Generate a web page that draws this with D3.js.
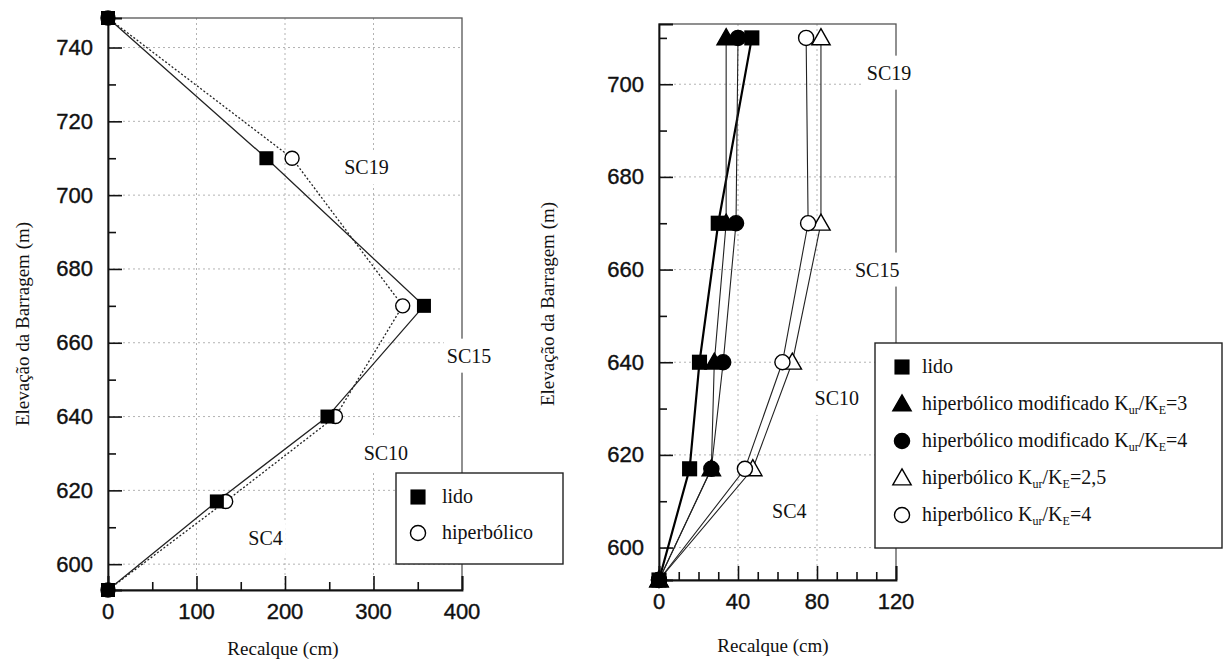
<!DOCTYPE html>
<html>
<head>
<meta charset="utf-8">
<script src="https://cdn.jsdelivr.net/npm/d3@7"></script>
<style>
  body { margin: 0; background: #fff; }
</style>
</head>
<body>
<div id="chart"></div>
<script>
const WIDTH = 1225;
const HEIGHT = 659;
const SANS = "'Liberation Sans', Arial, Helvetica, sans-serif";
const SERIF = "'Liberation Serif', Tinos, 'Times New Roman', Times, 'DejaVu Serif', serif";

// left panel data
const elevLeft = [748, 710, 670, 640, 617, 593];
const lidoLeft = [0, 179, 357, 248, 123, 0];
const hiperLeft = [0, 208, 333, 257, 133, 0];
const leftXTicks = [0, 100, 200, 300, 400];
const leftYTicks = [600, 620, 640, 660, 680, 700, 720, 740];
const leftRegions = ["SC19", "SC15", "SC10", "SC4"];
const leftRegionX = [292, 408, 314, 178];
const leftRegionY = [707.5, 656.5, 630, 607];

// right panel data
const elevRight = [710, 670, 640, 617, 593];
const lidoRight = [47, 30, 20.5, 15.5, 0];
const modKur3 = [34, 34, 28, 26.5, 0];
const modKur4 = [40, 39, 32.5, 26.5, 0];
const hipKur25 = [82, 82, 67.5, 47.5, 0];
const hipKur4 = [74.5, 75.5, 62.5, 43.5, 0];
const rightXTicks = [0, 40, 80, 120];
const rightYTicks = [600, 620, 640, 660, 680, 700];
const rightRegions = ["SC19", "SC15", "SC10", "SC4"];
const rightRegionX = [116.5, 110.5, 90, 66];
const rightRegionY = [702.5, 660, 632.3, 608];

const svg = d3.select("#chart").append("svg")
    .attr("width", WIDTH)
    .attr("height", HEIGHT);

function subLabel(sel, pre, post) {
    // "pre K_ur/K_E=post"
    sel.append("tspan").text(pre + "K");
    sel.append("tspan").attr("font-size", "12px").attr("dy", 4).text("ur");
    sel.append("tspan").attr("dy", -4).text("/K");
    sel.append("tspan").attr("font-size", "12px").attr("dy", 4).text("E");
    sel.append("tspan").attr("dy", -4).text("=" + post);
}

function drawMarker(g, type, x, y, big) {
    var k = big ? 1.08 : 1;
    if (type === "square") {
        var h = 7 * k;
        g.append("rect").attr("x", x - h).attr("y", y - h)
            .attr("width", 2 * h).attr("height", 2 * h).attr("fill", "#000");
    } else if (type === "tri" || type === "otri") {
        var s = 8.5 * k;
        g.append("path")
            .attr("d", `M${x},${y - s}L${x + s},${y + s * 0.75}L${x - s},${y + s * 0.75}Z`)
            .attr("fill", type === "tri" ? "#000" : "#fff")
            .attr("stroke", "#000").attr("stroke-width", 1.4);
    } else {
        g.append("circle").attr("cx", x).attr("cy", y).attr("r", 7 * k)
            .attr("fill", type === "circle" ? "#000" : "#fff")
            .attr("stroke", "#000").attr("stroke-width", 1.4);
    }
}

function panel(opt) {
    var x = d3.scaleLinear().domain(opt.xDomain).range([opt.left, opt.right]);
    var y = d3.scaleLinear().domain(opt.yDomain).range([opt.bottom, opt.top]);
    var g = svg.append("g");

    // grid
    g.selectAll(".gx").data(opt.xTicks.slice(1, -1)).enter().append("line")
        .attr("x1", d => x(d)).attr("x2", d => x(d))
        .attr("y1", opt.top).attr("y2", opt.bottom)
        .attr("stroke", "#aaa").attr("stroke-width", 0.9).attr("stroke-dasharray", "2,3");
    g.selectAll(".gy").data(opt.yTicks).enter().append("line")
        .attr("x1", opt.left).attr("x2", opt.right)
        .attr("y1", d => y(d)).attr("y2", d => y(d))
        .attr("stroke", "#aaa").attr("stroke-width", 0.9).attr("stroke-dasharray", "2,3");

    // frame
    g.append("rect").attr("x", opt.left).attr("y", opt.top)
        .attr("width", opt.right - opt.left).attr("height", opt.bottom - opt.top)
        .attr("fill", "none").attr("stroke", "#555").attr("stroke-width", 1.3);

    // axes with inward ticks
    var yStep = opt.yTicks[1] - opt.yTicks[0];
    var yMinorVals = opt.yTicks.map(d => d + yStep / 2).concat([opt.yTicks[0] - yStep / 2])
        .filter(d => d > opt.yDomain[0] && d < opt.yDomain[1]);
    var yAxis = d3.axisRight(y).tickValues(opt.yTicks).tickSize(14).tickFormat("");
    g.append("g").attr("transform", `translate(${opt.left},0)`).call(yAxis)
        .call(a => a.select(".domain").attr("stroke", "#111").attr("stroke-width", 1.8));
    var yMinor = d3.axisRight(y).tickValues(yMinorVals).tickSize(8).tickFormat("");
    g.append("g").attr("transform", `translate(${opt.left},0)`).call(yMinor)
        .call(a => a.select(".domain").remove());
    var xAxis = d3.axisTop(x).tickValues(opt.xTicks).tickSize(14).tickFormat("");
    g.append("g").attr("transform", `translate(0,${opt.bottom})`).call(xAxis)
        .call(a => a.select(".domain").attr("stroke", "#111").attr("stroke-width", 1.8));
    var xMinor = d3.axisTop(x)
        .tickValues(d3.range(opt.xDomain[0], opt.xDomain[1], opt.xMinor).filter(d => opt.xTicks.indexOf(d) < 0))
        .tickSize(8).tickFormat("");
    g.append("g").attr("transform", `translate(0,${opt.bottom})`).call(xMinor)
        .call(a => a.select(".domain").remove());
    g.selectAll(".tick line").attr("stroke", "#111").attr("stroke-width", 1.6);

    // tick labels
    g.selectAll(".yl").data(opt.yTicks).enter().append("text")
        .style("font-family", SANS).style("font-size", "22px")
        .attr("fill", "#111").attr("stroke", "#111").attr("stroke-width", 0.4)
        .attr("x", opt.left - 15).attr("y", d => y(d))
        .attr("text-anchor", "end").attr("dominant-baseline", "central").text(d => d);
    g.selectAll(".xl").data(opt.xTicks).enter().append("text")
        .style("font-family", SANS).style("font-size", "22px")
        .attr("fill", "#111").attr("stroke", "#111").attr("stroke-width", 0.4)
        .attr("x", d => x(d)).attr("y", opt.bottom + 21)
        .attr("text-anchor", "middle").attr("dominant-baseline", "central").text(d => d);

    // axis titles
    g.append("text").style("font-family", SERIF).style("font-size", "19px").attr("fill", "#111")
        .attr("text-anchor", "middle").attr("dominant-baseline", "central")
        .attr("transform", `translate(${opt.yTitleX},${opt.yTitleY}) rotate(-90)`)
        .text("Elevação da Barragem (m)");
    g.append("text").style("font-family", SERIF).style("font-size", "19px").attr("fill", "#111")
        .attr("text-anchor", "middle").attr("dominant-baseline", "central")
        .attr("x", opt.xTitleX).attr("y", opt.xTitleY)
        .text("Recalque (cm)");

    // region labels with white backing (they cut the frame)
    opt.regions.forEach(function(r, i) {
        var t = g.append("text").style("font-family", SERIF).style("font-size", "20px").attr("fill", "#111")
            .attr("text-anchor", "middle").attr("dominant-baseline", "central")
            .attr("x", x(opt.regionX[i])).attr("y", y(opt.regionY[i])).text(r);
        var bb = t.node().getBBox();
        g.insert("rect", function() { return t.node(); })
            .attr("x", bb.x - 3).attr("y", bb.y - 6).attr("width", bb.width + 6).attr("height", bb.height + 12)
            .attr("fill", "#fff");
    });

    // series lines, then markers (first series on top)
    opt.series.forEach(function(s) {
        var pts = s.values.map((v, i) => [x(v), y(opt.elev[i])]);
        g.append("path").attr("d", d3.line()(pts))
            .attr("fill", "none").attr("stroke", s.stroke || "#222")
            .attr("stroke-width", s.width).attr("stroke-dasharray", s.dash || null);
    });
    opt.series.slice().reverse().forEach(function(s) {
        s.values.forEach(function(v, i) { drawMarker(g, s.marker, x(v), y(opt.elev[i]), opt.big); });
    });
    return g;
}

panel({
    left: 108, right: 462, top: 18, bottom: 590,
    xDomain: [0, 400], yDomain: [593, 748],
    xTicks: leftXTicks, yTicks: leftYTicks, xMinor: 50,
    elev: elevLeft, big: false,
    yTitleX: 22, yTitleY: 324, xTitleX: 283, xTitleY: 648,
    regions: leftRegions, regionX: leftRegionX, regionY: leftRegionY,
    series: [
        { values: lidoLeft, marker: "square", width: 1.3 },
        { values: hiperLeft, marker: "ocircle", width: 1.3, dash: "2,2" }
    ]
});

panel({
    left: 659, right: 896, top: 24, bottom: 580,
    xDomain: [0, 120], yDomain: [593, 713],
    xTicks: rightXTicks, yTicks: rightYTicks, xMinor: 10,
    elev: elevRight, big: true,
    yTitleX: 547, yTitleY: 304, xTitleX: 773, xTitleY: 645,
    regions: rightRegions, regionX: rightRegionX, regionY: rightRegionY,
    series: [
        { values: lidoRight, marker: "square", width: 2.2, stroke: "#000" },
        { values: modKur4, marker: "circle", width: 1.1 },
        { values: modKur3, marker: "tri", width: 1.1 },
        { values: hipKur4, marker: "ocircle", width: 1.1 },
        { values: hipKur25, marker: "otri", width: 1.1 }
    ]
});

// legends
function legend(x0, y0, w, h, items, layout) {
    var g = svg.append("g");
    g.append("rect").attr("x", x0).attr("y", y0).attr("width", w).attr("height", h)
        .attr("fill", "#fff").attr("stroke", "#222").attr("stroke-width", 1.4);
    items.forEach(function(it, i) {
        var cy = y0 + layout[0] + i * layout[1];
        drawMarker(g, it.marker, x0 + layout[2], cy, true);
        var t = g.append("text").style("font-family", SERIF).style("font-size", "20px").attr("fill", "#111")
            .attr("x", x0 + layout[3]).attr("y", cy + 6);
        if (it.k) subLabel(t, it.label, it.k); else t.text(it.label);
    });
}

legend(396, 473, 167, 91, [
    { marker: "square", label: "lido" },
    { marker: "ocircle", label: "hiperbólico" }
], [24, 36, 22, 46]);

legend(875, 343, 347, 205, [
    { marker: "square", label: "lido" },
    { marker: "tri", label: "hiperbólico modificado ", k: "3" },
    { marker: "circle", label: "hiperbólico modificado ", k: "4" },
    { marker: "otri", label: "hiperbólico ", k: "2,5" },
    { marker: "ocircle", label: "hiperbólico ", k: "4" }
], [24, 37, 27, 47]);
</script>
</body>
</html>
